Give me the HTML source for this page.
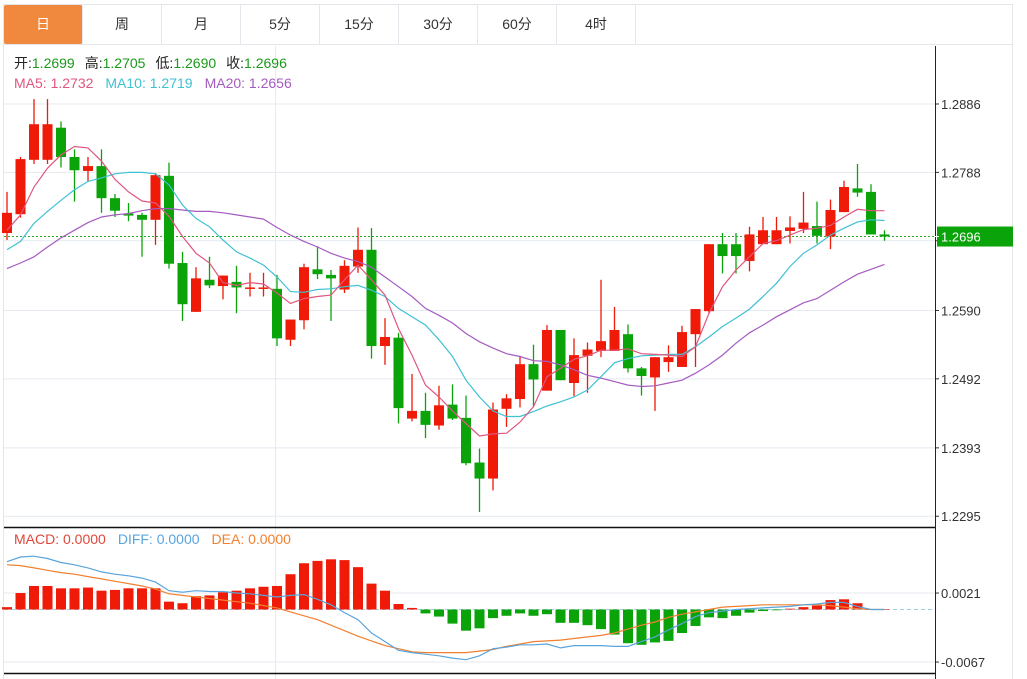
<!DOCTYPE html>
<html><head><meta charset="utf-8">
<style>
html,body{margin:0;padding:0;background:#fff;width:1027px;height:679px;overflow:hidden;font-family:"Liberation Sans","Noto Sans CJK SC",sans-serif}
#tabs{position:absolute;left:3px;top:4px;width:1010px;height:41px;border:1px solid #e3e6ea;border-right:1px solid #e3e6ea;box-sizing:border-box;display:flex}
.tab{width:79px;height:39px;border-right:1px solid #e3e6ea;box-sizing:border-box;text-align:center;line-height:39px;font-size:14px;color:#333}
.tab.on{background:#f0883e;color:#fff;border-radius:2px}
#frame{position:absolute;left:3px;top:45px;width:1010px;height:634px;border-left:1px solid #e3e6ea;border-right:1px solid #e3e6ea;box-sizing:border-box}
svg{position:absolute;left:0;top:0}
</style></head><body>
<div id="tabs">
<div class="tab on">日</div>
<div class="tab">周</div>
<div class="tab">月</div>
<div class="tab">5分</div>
<div class="tab">15分</div>
<div class="tab">30分</div>
<div class="tab">60分</div>
<div class="tab">4时</div>
</div>
<div id="frame"></div>
<svg id="chart" width="1027" height="679">
<g id="grid"></g><g id="marks"></g><g id="axis"></g>
<text x="14" y="68" font-size="14"><tspan fill="#222">开:</tspan><tspan fill="#1a9a1a">1.2699</tspan><tspan fill="#222" dx="10">高:</tspan><tspan fill="#1a9a1a">1.2705</tspan><tspan fill="#222" dx="10">低:</tspan><tspan fill="#1a9a1a">1.2690</tspan><tspan fill="#222" dx="10">收:</tspan><tspan fill="#1a9a1a">1.2696</tspan></text>
<text x="14" y="88" font-size="14"><tspan fill="#e0567e">MA5: 1.2732</tspan><tspan fill="#3ec1d3" dx="12">MA10: 1.2719</tspan><tspan fill="#a55bc0" dx="12">MA20: 1.2656</tspan></text>
<text x="14" y="544" font-size="14"><tspan fill="#e0463a">MACD: 0.0000</tspan><tspan fill="#5aa4dc" dx="12">DIFF: 0.0000</tspan><tspan fill="#f08030" dx="12">DEA: 0.0000</tspan></text>
</svg>
<script>
const opens=[1.2701,1.2728,1.2806,1.2806,1.2852,1.2810,1.2790,1.2797,1.2751,1.2729,1.2727,1.2720,1.2783,1.2658,1.2588,1.2634,1.2625,1.2631,1.2621,1.2622,1.2621,1.2548,1.2576,1.2649,1.2641,1.2620,1.2653,1.2677,1.2539,1.2551,1.2435,1.2446,1.2425,1.2455,1.2436,1.2372,1.2349,1.2449,1.2463,1.2513,1.2475,1.2562,1.2486,1.2525,1.2532,1.2532,1.2556,1.2507,1.2494,1.2516,1.2509,1.2556,1.2589,1.2685,1.2685,1.2661,1.2685,1.2685,1.2704,1.2707,1.2711,1.2696,1.2731,1.2765,1.2760,1.2699];
const highs=[1.2760,1.2810,1.2893,1.2893,1.2861,1.2821,1.2810,1.2821,1.2757,1.2744,1.2730,1.2787,1.2802,1.2674,1.2652,1.2667,1.2640,1.2654,1.2644,1.2644,1.2641,1.2577,1.2657,1.2682,1.2648,1.2662,1.2709,1.2708,1.2579,1.2558,1.2499,1.2472,1.2482,1.2484,1.2468,1.2392,1.2458,1.2470,1.2524,1.2541,1.2569,1.2562,1.2550,1.2544,1.2634,1.2595,1.2570,1.2509,1.2523,1.2540,1.2568,1.2592,1.2685,1.2701,1.2701,1.2710,1.2724,1.2724,1.2725,1.2760,1.2746,1.2749,1.2776,1.2800,1.2771,1.2705];
const lows=[1.2691,1.2723,1.2800,1.2800,1.2795,1.2746,1.2775,1.2730,1.2724,1.2718,1.2667,1.2684,1.2650,1.2575,1.2588,1.2622,1.2606,1.2586,1.2610,1.2610,1.2539,1.2539,1.2563,1.2635,1.2575,1.2615,1.2644,1.2521,1.2512,1.2428,1.2431,1.2407,1.2419,1.2433,1.2368,1.2301,1.2332,1.2423,1.2451,1.2452,1.2475,1.2490,1.2467,1.2472,1.2523,1.2532,1.2501,1.2468,1.2446,1.2502,1.2509,1.2509,1.2586,1.2643,1.2643,1.2646,1.2685,1.2685,1.2686,1.2701,1.2686,1.2678,1.2731,1.2753,1.2699,1.2690];
const closes=[1.2730,1.2807,1.2857,1.2857,1.2810,1.2791,1.2797,1.2751,1.2733,1.2726,1.2720,1.2784,1.2657,1.2599,1.2636,1.2626,1.2640,1.2623,1.2623,1.2623,1.2550,1.2577,1.2652,1.2642,1.2636,1.2654,1.2677,1.2539,1.2552,1.2450,1.2446,1.2426,1.2454,1.2435,1.2371,1.2349,1.2448,1.2464,1.2513,1.2491,1.2562,1.2490,1.2526,1.2534,1.2546,1.2562,1.2507,1.2496,1.2523,1.2523,1.2559,1.2592,1.2685,1.2668,1.2668,1.2699,1.2705,1.2705,1.2709,1.2716,1.2697,1.2734,1.2767,1.2759,1.2699,1.2696];
const ma5=[1.2705,1.2727,1.2767,1.2794,1.2813,1.2825,1.2823,1.2804,1.2778,1.2760,1.2747,1.2744,1.2725,1.2696,1.2672,1.2658,1.2630,1.2626,1.2630,1.2628,1.2615,1.2600,1.2607,1.2610,1.2612,1.2634,1.2655,1.2634,1.2612,1.2564,1.2526,1.2483,1.2466,1.2446,1.2428,1.2410,1.2413,1.2414,1.2430,1.2452,1.2495,1.2507,1.2520,1.2525,1.2533,1.2533,1.2535,1.2528,1.2527,1.2526,1.2524,1.2538,1.2586,1.2624,1.2648,1.2667,1.2686,1.2690,1.2698,1.2706,1.2708,1.2712,1.2724,1.2735,1.2733,1.2733];
const ma10=[1.2677,1.2689,1.2715,1.2732,1.2748,1.2763,1.2775,1.2780,1.2786,1.2788,1.2788,1.2786,1.2770,1.2741,1.2722,1.2710,1.2691,1.2674,1.2665,1.2655,1.2638,1.2617,1.2616,1.2620,1.2621,1.2624,1.2626,1.2619,1.2610,1.2593,1.2581,1.2569,1.2548,1.2524,1.2490,1.2466,1.2446,1.2438,1.2438,1.2445,1.2453,1.2459,1.2466,1.2476,1.2495,1.2515,1.2521,1.2525,1.2526,1.2527,1.2527,1.2538,1.2552,1.2567,1.2579,1.2592,1.2610,1.2629,1.2653,1.2672,1.2684,1.2698,1.2708,1.2717,1.2720,1.2719];
const ma20=[1.2650,1.2658,1.2667,1.2681,1.2694,1.2705,1.2716,1.2724,1.2727,1.2729,1.2733,1.2736,1.2736,1.2734,1.2732,1.2732,1.2730,1.2727,1.2724,1.2721,1.2709,1.2698,1.2689,1.2681,1.2672,1.2665,1.2660,1.2652,1.2638,1.2624,1.2610,1.2593,1.2583,1.2572,1.2557,1.2545,1.2536,1.2528,1.2524,1.2518,1.2517,1.2512,1.2505,1.2497,1.2493,1.2488,1.2483,1.2481,1.2482,1.2486,1.2490,1.2500,1.2512,1.2526,1.2543,1.2558,1.2569,1.2581,1.2591,1.2601,1.2607,1.2619,1.2631,1.2642,1.2649,1.2656];
const macdBars=[0.0003,0.0021,0.0030,0.0030,0.0027,0.0027,0.0028,0.0024,0.0025,0.0027,0.0027,0.0027,0.0010,0.0008,0.0017,0.0018,0.0022,0.0024,0.0027,0.0029,0.0030,0.0045,0.0059,0.0062,0.0064,0.0063,0.0054,0.0033,0.0024,0.0007,0.0002,-0.0005,-0.0009,-0.0018,-0.0027,-0.0024,-0.0011,-0.0008,-0.0005,-0.0008,-0.0006,-0.0017,-0.0017,-0.0020,-0.0025,-0.0032,-0.0043,-0.0045,-0.0042,-0.0040,-0.0030,-0.0021,-0.0010,-0.0011,-0.0008,-0.0004,-0.0002,-0.0001,0.0001,0.0003,0.0005,0.0012,0.0013,0.0008,0.0000,0.0000];
const diff=[0.0061,0.0067,0.0068,0.0065,0.0060,0.0057,0.0053,0.0048,0.0045,0.0043,0.0040,0.0035,0.0024,0.0022,0.0024,0.0023,0.0023,0.0021,0.0020,0.0018,0.0016,0.0018,0.0019,0.0013,0.0006,-0.0004,-0.0013,-0.0030,-0.0041,-0.0052,-0.0055,-0.0057,-0.0059,-0.0062,-0.0064,-0.0059,-0.0050,-0.0048,-0.0045,-0.0045,-0.0044,-0.0049,-0.0046,-0.0046,-0.0046,-0.0047,-0.0047,-0.0041,-0.0035,-0.0026,-0.0018,-0.0009,-0.0004,-0.0002,0.0000,0.0001,0.0002,0.0003,0.0004,0.0006,0.0007,0.0009,0.0009,0.0004,0.0000,0.0000];
const dea=[0.0057,0.0056,0.0053,0.0050,0.0047,0.0045,0.0042,0.0039,0.0036,0.0033,0.0030,0.0026,0.0020,0.0018,0.0016,0.0014,0.0012,0.0010,0.0008,0.0005,0.0002,-0.0003,-0.0008,-0.0013,-0.0020,-0.0027,-0.0034,-0.0040,-0.0046,-0.0050,-0.0054,-0.0055,-0.0055,-0.0055,-0.0055,-0.0053,-0.0051,-0.0047,-0.0044,-0.0041,-0.0040,-0.0039,-0.0037,-0.0035,-0.0033,-0.0030,-0.0025,-0.0020,-0.0016,-0.0010,-0.0006,-0.0003,0.0000,0.0003,0.0004,0.0005,0.0006,0.0006,0.0006,0.0006,0.0006,0.0005,0.0003,0.0001,0.0000,0.0000];
const priceTicks=["1.2886","1.2788","1.2690","1.2590","1.2492","1.2393","1.2295"];
const macdTicks=["0.0021","-0.0067"];
const lastPrice=1.2696;

const NS="http://www.w3.org/2000/svg";
const xAt=i=>7+13.5*i;
const yP=p=>104+(1.2886-p)*6975;
const yM=v=>609.5-v*7841;
const RED="#ef1a08",GREEN="#0aa30a";
function mk(tag,attrs,parent){const e=document.createElementNS(NS,tag);for(const k in attrs)e.setAttribute(k,attrs[k]);parent.appendChild(e);return e;}
const grid=document.getElementById('grid'),marks=document.getElementById('marks'),axis=document.getElementById('axis');

// grid
priceTicks.forEach(t=>{const y=yP(parseFloat(t));
 const l=mk('line',{x1:4,x2:935,y1:y,y2:y,stroke:'#e4eaf0'},grid);
 
 
 mk('line',{x1:935,x2:939,y1:y,y2:y,stroke:'#333'},axis);
 const tx=mk('text',{x:941,y:y+5,'font-size':13,fill:'#333'},axis);tx.textContent=t;
 
 
});
macdTicks.forEach(t=>{const y=yM(parseFloat(t));
 const l=mk('line',{x1:4,x2:935,y1:y,y2:y,stroke:'#e4eaf0'},grid);
 
 
 mk('line',{x1:935,x2:939,y1:y,y2:y,stroke:'#333'},axis);
 const tx=mk('text',{x:941,y:y+5,'font-size':13,fill:'#333'},axis);tx.textContent=t;
 
 
});
mk('line',{x1:275.5,x2:275.5,y1:46,y2:679,stroke:'#e4eaf0'},grid);
mk('line',{x1:4,x2:935,y1:527.5,y2:527.5,stroke:'#111','stroke-width':1.5},axis);
mk('line',{x1:4,x2:935,y1:673.5,y2:673.5,stroke:'#111','stroke-width':1.5},axis);
mk('line',{x1:935.5,x2:935.5,y1:46,y2:679,stroke:'#222'},axis);
mk('line',{x1:4,x2:935,y1:yM(0),y2:yM(0),stroke:'#9fcfe6','stroke-dasharray':'4,3'},grid);
const ly=yP(lastPrice);
const lp=mk('line',{x1:4,x2:935,y1:ly,y2:ly,stroke:'#2ea82e','stroke-dasharray':'2,2'},grid);


const tag=mk('rect',{x:937,y:ly-10,width:76,height:20,fill:'#0aa30a'},axis);


mk('line',{x1:935,x2:939,y1:ly,y2:ly,stroke:'#fff'},axis);
const tt=mk('text',{x:941,y:ly+5,'font-size':13,fill:'#fff'},axis);tt.textContent=lastPrice.toFixed(4);

// candles
opens.forEach((o,i)=>{const c=closes[i],x=xAt(i),up=c>=o,col=up?RED:GREEN;
 const g=mk('g',{},marks);
 
 
 mk('line',{x1:x,x2:x,y1:yP(highs[i]),y2:yP(lows[i]),stroke:col,'stroke-width':1.3},g);
 const t=Math.min(yP(o),yP(c)),h=Math.max(1.5,Math.abs(yP(o)-yP(c)));
 mk('rect',{x:x-5,y:t,width:10,height:h,fill:col},g);
});
function line(arr,yf,col,name){let d='';arr.forEach((v,i)=>{d+=(i?'L':'M')+xAt(i).toFixed(1)+','+yf(v).toFixed(1);});
 const p=mk('path',{d:d,fill:'none',stroke:col,'stroke-width':1.2},marks);
 
 }
line(ma20,yP,'#a55bc0','ma20-line');
line(ma10,yP,'#3ec1d3','ma10-line');
line(ma5,yP,'#e0567e','ma5-line');
// macd
macdBars.forEach((v,i)=>{const x=xAt(i),y0=yM(0),y1=yM(v);
 const r=mk('rect',{x:x-5,y:Math.min(y0,y1),width:10,height:Math.max(Math.abs(y1-y0),0.5),fill:v>=0?RED:GREEN},marks);
 
 
});
line(dea,yM,'#f08030','dea-line');
line(diff,yM,'#5aa4dc','diff-line');
</script>
</body></html>
